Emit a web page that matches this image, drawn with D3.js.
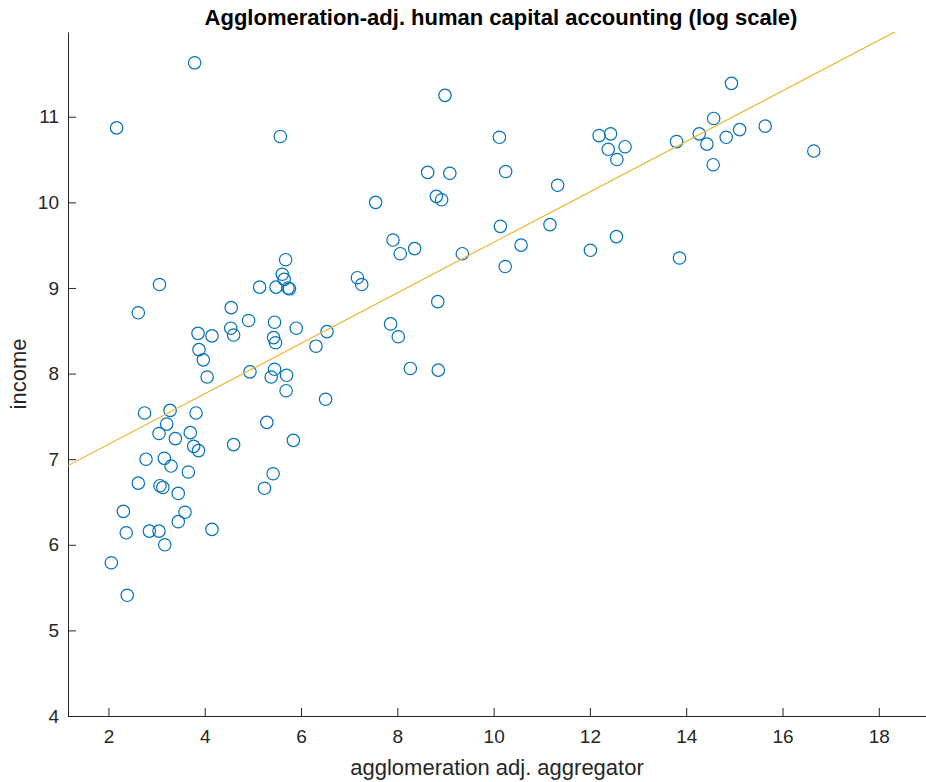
<!DOCTYPE html>
<html>
<head>
<meta charset="utf-8">
<script src="https://cdn.jsdelivr.net/npm/d3@7"></script>
<style>
  body { margin: 0; background: #fff; }
  svg { display: block; font-family: "Liberation Sans", Arial, sans-serif; }
  .axis text { fill: #262626; font-size: 19px; }
  .axis path, .axis line { stroke: #262626; }
</style>
</head>
<body>
<div id="chart"></div>
<script>
// agglomeration adj. aggregator (x) and income (y)
const aggregator = [
  3.79, 2.17, 5.57, 8.99, 7.55,
  10.12, 12.19, 12.43, 12.38, 12.56, 12.73, 8.63, 9.09, 10.25, 11.33, 8.81, 8.92,
  10.14, 11.17, 7.91, 8.06, 8.36, 9.35, 10.57, 10.24, 12.01, 12.55,
  14.94, 14.57, 13.80, 14.27, 14.43, 14.83, 15.11, 15.64, 16.65, 14.56, 13.86,
  8.84, 7.86, 8.02, 8.27, 8.85,
  5.68, 5.61, 5.65, 5.14, 5.48, 5.73, 5.76, 3.06, 7.17, 7.26, 2.62, 4.55, 4.91,
  5.45, 5.90, 6.54, 3.86, 4.15, 4.54, 4.60, 5.43, 5.47, 3.88, 3.97, 6.31, 4.05,
  4.94, 5.45, 5.38, 5.70, 5.69, 6.51, 2.75, 3.28, 3.82, 3.21, 5.29, 3.05, 3.70,
  3.39, 3.77, 3.87, 4.60, 5.84, 2.78, 3.16, 3.30, 3.66, 5.42,
  2.62, 3.07, 3.13, 3.45, 5.24, 2.31, 3.59, 3.45, 2.37, 2.85, 3.05, 4.15, 3.17,
  2.06, 2.39
]
const income = [
  11.63, 10.87, 10.77, 11.25, 10.00,
  10.76, 10.78, 10.80, 10.62, 10.50, 10.65, 10.35, 10.34, 10.36, 10.20, 10.07, 10.03,
  9.72, 9.74, 9.56, 9.40, 9.46, 9.40, 9.50, 9.25, 9.44, 9.60,
  11.39, 10.98, 10.71, 10.80, 10.68, 10.76, 10.85, 10.89, 10.60, 10.44, 9.35,
  8.84, 8.58, 8.43, 8.06, 8.04,
  9.33, 9.16, 9.10, 9.01, 9.01, 9.00, 8.99, 9.04, 9.12, 9.04, 8.71, 8.77, 8.62,
  8.60, 8.53, 8.49, 8.47, 8.44, 8.53, 8.45, 8.42, 8.36, 8.28, 8.16, 8.32, 7.96,
  8.02, 8.05, 7.96, 7.98, 7.80, 7.70, 7.54, 7.57, 7.54, 7.41, 7.43, 7.30, 7.31,
  7.24, 7.15, 7.10, 7.17, 7.22, 7.00, 7.01, 6.92, 6.85, 6.83,
  6.72, 6.69, 6.67, 6.60, 6.66, 6.39, 6.38, 6.27, 6.14, 6.16, 6.16, 6.18, 6.00,
  5.79, 5.41
]
// fitted line: income = slope * aggregator + intercept
const fitSlope = 0.295
const fitIntercept = 6.583

const xTicks = [2, 4, 6, 8, 10, 12, 14, 16, 18]
const yTicks = [4, 5, 6, 7, 8, 9, 10, 11]

const width = 926
const height = 782
const margin = { top: 32, right: 0, bottom: 66, left: 68 }

const points = aggregator.map((d, i) => ({ x: d, y: income[i] }))

const svg = d3
  .select('#chart')
  .append('svg')
  .attr('width', width)
  .attr('height', height)

const xScale = d3
  .scaleLinear()
  .domain([1.16, 18.98])
  .range([margin.left, width - margin.right])

const yScale = d3
  .scaleLinear()
  .domain([4, 11.99])
  .range([height - margin.bottom, margin.top])

svg.append('clipPath')
  .attr('id', 'plot-clip')
  .append('rect')
  .attr('x', margin.left)
  .attr('y', margin.top)
  .attr('width', width - margin.left - margin.right)
  .attr('height', height - margin.top - margin.bottom)

// axes, MATLAB style: ticks pointing inwards, no box
const xAxis = d3.axisBottom(xScale)
  .tickValues(xTicks)
  .tickSizeInner(-8)
  .tickSizeOuter(0)
  .tickPadding(14)

svg.append('g')
  .attr('class', 'axis')
  .attr('transform', `translate(0,${height - margin.bottom})`)
  .call(xAxis)

const yAxis = d3.axisLeft(yScale)
  .tickValues(yTicks)
  .tickSizeInner(-8)
  .tickSizeOuter(0)
  .tickPadding(9)

svg.append('g')
  .attr('class', 'axis')
  .attr('transform', `translate(${margin.left},0)`)
  .call(yAxis)

svg.selectAll('.axis').attr('font-family', null).attr('font-size', null)

// scatter
svg.append('g')
  .selectAll('circle')
  .data(points)
  .enter()
  .append('circle')
  .attr('cx', d => xScale(d.x))
  .attr('cy', d => yScale(d.y))
  .attr('r', 6.2)
  .attr('fill', 'none')
  .attr('stroke', '#0072BD')
  .attr('stroke-width', 1.2)

// fit line
const xDom = xScale.domain()
svg.append('line')
  .attr('clip-path', 'url(#plot-clip)')
  .attr('x1', xScale(xDom[0]))
  .attr('y1', yScale(fitSlope * xDom[0] + fitIntercept))
  .attr('x2', xScale(xDom[1]))
  .attr('y2', yScale(fitSlope * xDom[1] + fitIntercept))
  .attr('stroke', '#EDB120')
  .attr('stroke-width', 1.1)

// labels
svg.append('text')
  .attr('x', 501)
  .attr('y', 25)
  .attr('text-anchor', 'middle')
  .attr('font-weight', 'bold')
  .attr('font-size', 22)
  .attr('fill', '#000')
  .text('Agglomeration-adj. human capital accounting (log scale)')

svg.append('text')
  .attr('x', (margin.left + width - margin.right) / 2)
  .attr('y', 775)
  .attr('text-anchor', 'middle')
  .attr('font-size', 22)
  .attr('fill', '#262626')
  .text('agglomeration adj. aggregator')

svg.append('text')
  .attr('transform', `translate(26,${(margin.top + height - margin.bottom) / 2})rotate(-90)`)
  .attr('text-anchor', 'middle')
  .attr('font-size', 22)
  .attr('fill', '#262626')
  .text('income')
</script>
</body>
</html>
